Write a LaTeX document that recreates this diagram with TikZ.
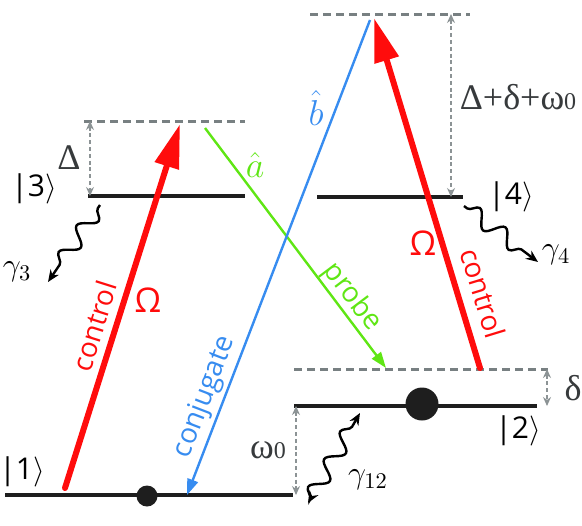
\documentclass[tikz,border=0pt]{standalone}
\usepackage{fix-cm}
\usepackage{fontspec}
\setmainfont{Open Sans}
\newfontfamily\symfont{Liberation Serif}
\usetikzlibrary{positioning,arrows.meta,decorations.pathmorphing}
\definecolor{lvred}{RGB}{255,12,12}
\definecolor{lvgreen}{RGB}{95,230,20}
\definecolor{lvblue}{RGB}{55,140,240}
\definecolor{lvgray}{RGB}{120,128,130}
\definecolor{lvdark}{RGB}{30,30,30}
\definecolor{lvtext}{RGB}{55,58,60}

\tikzset{
  level/.style={line width=1.9pt, lvdark},
  virt/.style={line width=1.5pt, lvgray, dash pattern=on 4pt off 2.5pt},
  gap/.style={line width=0.55pt, lvgray!85, dash pattern=on 2pt off 1.4pt, {Stealth[length=4.5pt,width=4pt]}-{Stealth[length=4.5pt,width=4pt]}},
  ctrl/.style={line width=3pt, lvred, line cap=round, -{Triangle[length=22pt,width=12pt]}},
  beam/.style={line width=1.2pt, -{Triangle[length=8pt,width=5.5pt]}},
  decay/.style={line width=1.2pt, black, decorate, decoration={snake, amplitude=4pt, segment length=16pt, pre length=2pt, post length=5pt}},
  dot/.style={circle, fill=lvdark, inner sep=0pt},
  ket/.style={font=\fontsize{15}{17}\selectfont},
  word/.style={font=\fontsize{14}{16}\selectfont},
  big/.style={font=\fontsize{17}{19}\selectfont},
  gaplbl/.style={lvtext, font=\symfont\fontsize{18}{20}\selectfont},
  rate/.style={font=\fontsize{16}{18}\selectfont},
}

\begin{document}
\begin{tikzpicture}[x=0.5pt,y=-0.5pt]
  \useasboundingbox (0,0) rectangle (582,525);
  % levels
  \coordinate (l1w) at (5,495);   \coordinate (l1e) at (293,495);
  \coordinate (l2w) at (294,406); \coordinate (l2e) at (537,406);
  \coordinate (v2w) at (294,369); \coordinate (v2e) at (548,369);
  \coordinate (l3w) at (88,196);  \coordinate (l3e) at (245,196);
  \coordinate (v3w) at (84,121);  \coordinate (v3e) at (245,121);
  \coordinate (l4w) at (317,197); \coordinate (l4e) at (463,197);
  \coordinate (v4w) at (310,14);  \coordinate (v4e) at (470,14);
  \draw[virt] (v2w) -- (v2e);
  \draw[virt] (v3w) -- (v3e);
  \draw[virt] (v4w) -- (v4e);
  \draw[level] (l1w) -- (l1e);
  \draw[level] (l2w) -- (l2e);
  \draw[level] (l3w) -- (l3e);
  \draw[level] (l4w) -- (l4e);
  \node[dot, minimum width=10.5pt, minimum height=9pt] (pop1) at (147,496) {};
  \node[dot, minimum size=16.5pt] (pop2) at (422,404) {};

  % detunings
  \coordinate (dA) at (90,121);  \coordinate (dB) at (90,196);
  \coordinate (sA) at (451,14);  \coordinate (sB) at (451,197);
  \coordinate (eA) at (547,369); \coordinate (eB) at (547,406);
  \coordinate (wA) at (296,406); \coordinate (wB) at (296,495);
  \draw[gap] (dA) -- (dB);
  \draw[gap] (sA) -- (sB);
  \draw[gap] (eA) -- (eB);
  \draw[gap] (wA) -- (wB);
  \node[gaplbl] (lDelta) at (69,158) {Δ};
  \node[gaplbl] (lSum) at (518,97) {Δ+δ+ω{\fontsize{12}{14}\selectfont 0}};
  \node[gaplbl] (ldelta) at (573,388) {δ};
  \node[gaplbl] (lomega) at (268,450) {ω{\fontsize{12}{14}\selectfont 0}};

  % fields
  \coordinate (c1s) at (65,488);  \coordinate (c1t) at (180,124);
  \coordinate (c2s) at (480,368); \coordinate (c2t) at (374,18);
  \coordinate (ps) at (205,128);  \coordinate (pt) at (386,368);
  \coordinate (bs) at (370,20);   \coordinate (bt) at (187,495);
  \draw[beam, lvgreen] (ps) -- (pt);
  \draw[beam, lvblue] (bs) -- (bt);
  \draw[ctrl] (c1s) -- (c1t);
  \draw[ctrl] (c2s) -- (c2t);
  \node[word, lvred, rotate=72.5] (ctl1) at (94,326) {control};
  \node[word, lvred, rotate=-73] (ctl2) at (483,293) {control};
  \node[word, lvgreen, rotate=-53] (prb) at (352,297) {probe};
  \node[word, lvblue, rotate=69] (cnj) at (205,397) {conjugate};
  \node[big, lvred] (om1) at (148,300) {Ω};
  \node[big, lvred] (om2) at (423,243) {Ω};
  \node[lvgreen, font=\fontsize{18}{20}\selectfont] (ahat) at (255,165) {$\hat a$};
  \node[lvblue, font=\fontsize{18}{20}\selectfont] (bhat) at (316,108) {$\hat b$};

  % states
  \node[ket] (k1) at (22,472) {|1$\rangle$};
  \node[ket] (k2) at (518,431) {|2$\rangle$};
  \node[ket] (k3) at (34,189) {|3$\rangle$};
  \node[ket] (k4) at (511,197) {|4$\rangle$};

  % decay
  \coordinate (g3s) at (100,205); \coordinate (g3t) at (48,282);
  \coordinate (g4s) at (464,206); \coordinate (g4t) at (538,262);
  \coordinate (g12s) at (308,503); \coordinate (g12t) at (360,413);
  \draw[decay, -{Stealth[length=6pt,width=5pt]}] (g3s) -- (g3t);
  \draw[decay, -{Stealth[length=6pt,width=5pt]}] (g4s) -- (g4t);
  \draw[decay, {Stealth[length=6pt,width=5pt]}-{Stealth[length=6pt,width=5pt]}] (g12s) -- (g12t);
  \node[rate] (r3) at (17,272) {$\gamma_3$};
  \node[rate] (r4) at (556,255) {$\gamma_4$};
  \node[rate] (r12) at (368,480) {$\gamma_{12}$};
\end{tikzpicture}
\end{document}
